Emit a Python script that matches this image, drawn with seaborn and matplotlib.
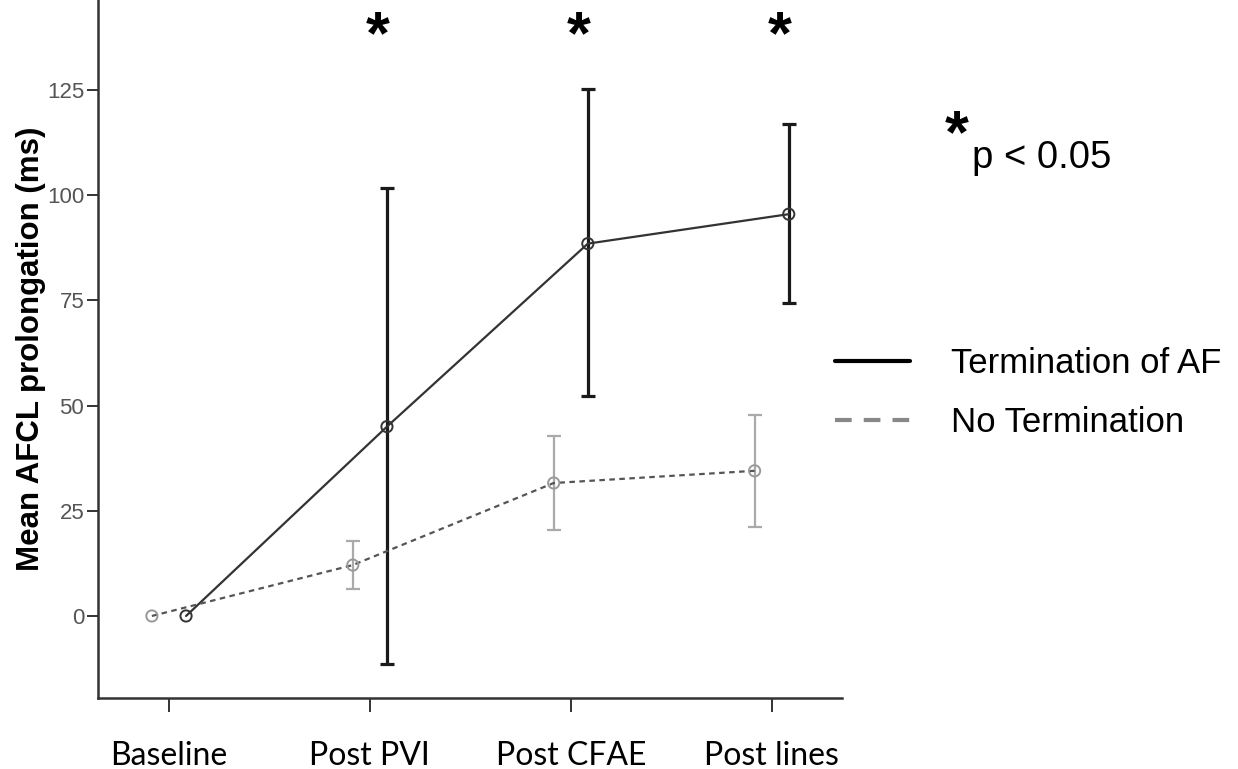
import matplotlib
matplotlib.use("Agg")
import matplotlib.pyplot as plt
from matplotlib.lines import Line2D
import seaborn as sns
import pandas as pd
import numpy as np

categories = ["Baseline", "Post PVI", "Post CFAE", "Post lines"]
series = ["Termination of AF", "No Termination"]

term_mean = [0, 45, 88.5, 95.5]
term_low = [0, -11.5, 52.3, 74.4]
term_high = [0, 101.8, 125.3, 117.0]

noterm_mean = [0, 12.1, 31.6, 34.5]
noterm_low = [0, 6.4, 20.4, 21.1]
noterm_high = [0, 17.8, 42.8, 47.8]

sig_categories = ["Post PVI", "Post CFAE", "Post lines"]
yticks = [0, 25, 50, 75, 100, 125]

sns.set_theme(style="white")
plt.rcParams["font.family"] = ["Liberation Sans", "DejaVu Sans"]
plt.rcParams["text.color"] = "black"

fig = plt.figure(figsize=(12.38, 7.69), dpi=100)
ax = fig.add_axes([0.0792, 0.0923, 0.6006, 0.9077])

offset = {"Termination of AF": 0.085, "No Termination": -0.085}
rows = []
for i, c in enumerate(categories):
    rows.append(dict(cat=c, x=i + offset[series[0]], series=series[0],
                     mean=term_mean[i], low=term_low[i], high=term_high[i]))
    rows.append(dict(cat=c, x=i + offset[series[1]], series=series[1],
                     mean=noterm_mean[i], low=noterm_low[i], high=noterm_high[i]))
df = pd.DataFrame(rows)

styles = {
    "Termination of AF": dict(line="#333333", lw=1.6, dash=None, mk="#333333",
                              err="#1a1a1a", elw=2.3, cap=5),
    "No Termination": dict(line="#555555", lw=1.6, dash=(2.5, 2.0), mk="#999999",
                           err="#aaaaaa", elw=1.6, cap=5),
}

for s in series:
    d = df[df.series == s]
    st = styles[s]
    de = d[d.high > d.low]
    ax.errorbar(de.x, de["mean"], yerr=[de["mean"] - de.low, de.high - de["mean"]],
                fmt="none", ecolor=st["err"], elinewidth=st["elw"],
                capsize=st["cap"], capthick=st["elw"], zorder=2)
    line_kw = {}
    if st["dash"] is not None:
        line_kw["dashes"] = [st["dash"]]
        line_kw["style"] = "series"
    sns.lineplot(data=d, x="x", y="mean", ax=ax, color=st["line"], lw=st["lw"],
                 legend=False, sort=False, estimator=None, zorder=3, **line_kw)
    sns.scatterplot(data=d, x="x", y="mean", ax=ax, marker="o", s=65,
                    facecolor="none", edgecolor=st["mk"], linewidth=1.4,
                    legend=False, zorder=4)

ax.set_xlim(-0.353, 3.348)
ax.set_ylim(-19.5, 146.4)
ax.set_xticks(range(len(categories)))
ax.set_xticklabels(categories, fontfamily=["Lato", "DejaVu Sans"], fontsize=23,
                   color="black")
ax.set_yticks(yticks)
ax.set_yticklabels([str(t) for t in yticks], fontsize=16, color="#555555")
ax.tick_params(axis="x", direction="out", length=10, width=1.4, color="#333333",
               pad=21, bottom=True)
ax.tick_params(axis="y", direction="out", length=8, width=1.4, color="#333333",
               pad=2, left=True)
ax.set_xlabel("")
ax.set_ylabel("Mean AFCL prolongation (ms)", fontsize=22.5, fontweight="bold",
              color="black", labelpad=1)
for sp in ["top", "right"]:
    ax.spines[sp].set_visible(False)
for sp in ["left", "bottom"]:
    ax.spines[sp].set_color("#333333")
    ax.spines[sp].set_linewidth(1.8)

# significance stars
for c in sig_categories:
    i = categories.index(c)
    ax.text(i + 0.04, 137.5, "*", ha="center", va="center", fontsize=44,
            fontweight="bold", color="black", clip_on=False)

# p-value note
fig.text(957 / 1238, 1 - 137 / 769, "*", ha="center", va="center", fontsize=44,
         fontweight="bold", color="black")
fig.text(972 / 1238, 1 - 168 / 769, "p < 0.05", ha="left", va="baseline",
         fontsize=27.5, color="black")

# legend
handles = [Line2D([0], [0], color="black", lw=3.0),
           Line2D([0], [0], color="#888888", lw=3.0, dashes=(4.0, 2.9))]
fig.legend(handles, series, loc="center left",
           bbox_to_anchor=(835 / 1238, 1 - 393 / 769), frameon=False,
           fontsize=25, handlelength=2.15, handletextpad=1.2, labelspacing=0.75,
           borderpad=0, borderaxespad=0, labelcolor="black")

fig.savefig("out.png", dpi=100)
